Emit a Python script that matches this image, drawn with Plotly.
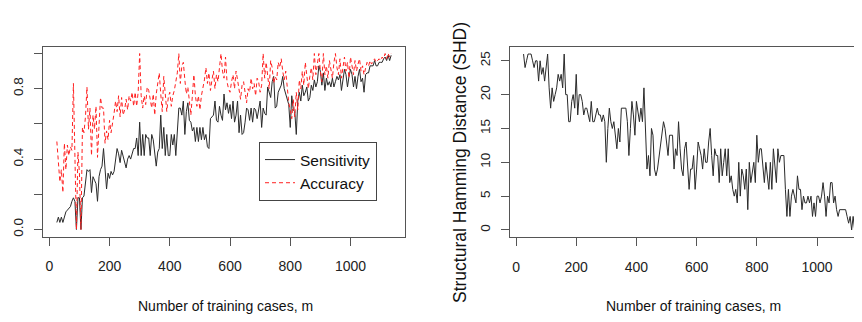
import plotly.graph_objects as go
from plotly.subplots import make_subplots

m = list(range(25, 1140, 5))

sensitivity = [
    0.04,0.07,0.04,0.07,0.04,0.08,0.10,0.11,0.12,0.13,
    0.16,0.18,0.16,0.00,0.18,0.18,0.00,0.18,0.19,0.27,
    0.34,0.33,0.34,0.21,0.30,0.28,0.26,0.16,0.30,0.34,
    0.36,0.46,0.33,0.23,0.32,0.29,0.33,0.31,0.33,0.41,
    0.46,0.43,0.38,0.45,0.41,0.38,0.35,0.40,0.42,0.40,
    0.44,0.46,0.46,0.52,0.42,0.61,0.42,0.54,0.42,0.54,
    0.52,0.52,0.42,0.54,0.51,0.42,0.36,0.44,0.46,0.65,
    0.46,0.58,0.42,0.54,0.42,0.42,0.54,0.48,0.54,0.42,
    0.58,0.69,0.69,0.65,0.73,0.54,0.67,0.72,0.62,0.61,
    0.56,0.58,0.50,0.58,0.50,0.58,0.51,0.58,0.51,0.54,
    0.47,0.46,0.63,0.64,0.65,0.73,0.62,0.61,0.70,0.65,
    0.62,0.77,0.68,0.72,0.66,0.71,0.63,0.73,0.61,0.65,
    0.73,0.55,0.65,0.54,0.55,0.61,0.69,0.68,0.62,0.69,
    0.61,0.69,0.68,0.63,0.68,0.73,0.58,0.69,0.66,0.65,
    0.81,0.77,0.75,0.84,0.87,0.69,0.70,0.78,0.80,0.82,
    0.87,0.80,0.77,0.74,0.71,0.58,0.76,0.68,0.67,0.54,
    0.73,0.78,0.73,0.82,0.76,0.78,0.81,0.73,0.75,0.82,
    0.79,0.85,0.81,0.84,0.93,0.90,0.82,0.89,0.79,0.86,
    0.82,0.84,0.81,0.86,0.81,0.84,0.87,0.85,0.88,0.79,
    0.85,0.91,0.88,0.81,0.87,0.91,0.88,0.81,0.87,0.80,
    0.87,0.91,0.84,0.86,0.78,0.88,0.89,0.89,0.93,0.93,
    0.93,0.96,0.93,0.93,0.95,0.95,0.95,0.97,0.98,0.96,
    0.99,0.96,0.99,
]

accuracy = [
    0.50,0.38,0.27,0.34,0.21,0.49,0.34,0.48,0.42,0.47,
    0.45,0.83,0.30,0.00,0.44,0.32,0.00,0.58,0.55,0.64,
    0.81,0.57,0.69,0.42,0.65,0.57,0.70,0.41,0.59,0.75,
    0.69,0.69,0.49,0.56,0.51,0.62,0.55,0.60,0.66,0.73,
    0.67,0.76,0.64,0.75,0.65,0.68,0.74,0.68,0.76,0.73,
    0.78,0.70,0.78,0.70,0.78,1.00,0.76,0.69,0.76,0.71,
    0.81,0.79,0.75,0.69,0.77,0.65,0.77,0.82,0.89,0.77,
    0.67,0.87,0.74,0.67,0.75,0.78,0.70,0.76,0.79,0.85,
    0.89,1.00,0.83,0.93,0.95,0.85,0.77,0.81,0.73,0.65,
    0.76,0.88,0.76,0.70,0.76,0.68,0.76,0.80,0.85,0.92,
    0.83,0.89,0.79,0.85,0.90,0.80,0.88,0.84,0.92,1.00,
    0.90,0.86,0.98,0.84,0.80,0.78,0.84,0.88,0.80,0.90,
    0.85,0.78,0.74,0.82,0.84,0.78,0.72,0.80,0.78,0.86,
    0.80,0.83,0.76,0.86,0.84,0.78,0.82,1.00,0.86,0.95,
    0.88,0.80,0.96,0.92,0.83,0.87,0.85,0.95,0.92,0.97,
    0.90,0.85,0.90,0.80,0.72,0.68,0.63,0.74,0.64,0.78,
    0.68,0.85,0.80,0.90,0.82,0.95,0.88,0.80,0.87,0.92,
    0.85,1.00,0.88,0.95,1.00,0.90,0.84,1.00,0.88,0.93,
    0.86,0.96,0.90,0.86,0.95,1.00,0.92,0.88,0.97,0.86,
    0.92,0.98,0.90,0.95,0.86,0.98,0.93,0.88,0.96,0.90,
    0.94,0.97,0.90,0.93,0.88,0.92,0.95,0.93,0.96,0.94,
    0.96,0.97,0.95,0.96,0.97,0.96,0.98,0.97,1.00,0.97,
    1.00,0.98,1.00,
]

shd = [
    26,24,25,26,26,26,25,24,25,25,
    22,25,23,24,22,24,26,21,18,21,
    19,20,21,23,22,23,21,26,20,20,
    16,16,19,20,18,23,17,20,20,19,
    17,18,18,17,16,19,16,16,17,18,
    17,17,16,17,16,10,15,18,16,15,
    16,14,12,15,13,18,18,18,18,16,
    11,15,19,17,14,19,17,16,18,16,
    21,15,9,11,8,15,14,9,8,9,
    11,13,15,16,15,13,11,14,14,14,
    9,12,11,16,12,9,8,12,13,10,
    6,9,9,11,6,9,13,12,11,9,
    12,10,10,13,15,11,8,12,11,11,
    7,12,8,10,12,8,12,7,8,6,
    5,6,4,10,5,9,8,6,9,3,
    10,7,9,10,7,14,10,12,12,9,
    7,10,8,6,10,6,12,9,7,12,
    10,11,11,11,6,2,6,2,5,6,
    5,4,8,6,6,3,5,4,4,5,
    4,5,2,4,2,5,5,4,5,7,
    5,2,5,4,7,7,4,5,3,2,
    3,3,3,3,3,2,1,2,0,2,
    0,2,1,
]

x_ticks = [0, 200, 400, 600, 800, 1000]
left_y_ticks = [0.0, 0.2, 0.4, 0.6, 0.8, 1.0]
left_y_labels = ["0.0", "", "0.4", "", "0.8", ""]
right_y_ticks = [0, 5, 10, 15, 20, 25]

W, H = 862, 322
O = 8  # page body margin offset


def px(x):
    return (x - O) / W


def py(y):
    return (H - (y - O)) / H


NARROW = "Liberation Sans Narrow, Arial Narrow, Liberation Sans, Arial, sans-serif"
REG = "Liberation Sans, Arial, Helvetica, sans-serif"
AX = "#555555"

fig = make_subplots(rows=1, cols=2)

fig.add_trace(go.Scatter(x=m, y=sensitivity, mode="lines", name="Sensitivity",
                         line=dict(color="#2a2a2a", width=1)), row=1, col=1)
fig.add_trace(go.Scatter(x=m, y=accuracy, mode="lines", name="Accuracy",
                         line=dict(color="#ff2020", width=1, dash="4px,3px")), row=1, col=1)
fig.add_trace(go.Scatter(x=m, y=shd, mode="lines", showlegend=False,
                         line=dict(color="#2a2a2a", width=1)), row=1, col=2)

common_x = dict(tickvals=x_ticks, ticks="outside", ticklen=8, tickwidth=1, tickcolor=AX,
                showline=True, linecolor=AX, linewidth=1, showgrid=False, zeroline=False,
                tickfont=dict(family=NARROW, size=14, color="#222"), ticklabelstandoff=9)
common_y = dict(ticks="outside", ticklen=8, tickwidth=1, tickcolor=AX, tickangle=-90,
                showline=True, linecolor=AX, linewidth=1, showgrid=False, zeroline=False,
                tickfont=dict(family=REG, size=13.5, color="#222"), ticklabelstandoff=6)

fig.update_layout(
    width=W, height=H,
    margin=dict(l=0, r=0, t=0, b=0),
    paper_bgcolor="white", plot_bgcolor="white",
    xaxis=dict(domain=[px(43), px(405)], range=[-21, 1181], mirror=True, **common_x),
    yaxis=dict(domain=[py(236.5), py(46.5)], range=[-0.04, 1.04], mirror=True,
               tickvals=left_y_ticks, ticktext=left_y_labels, **common_y),
    xaxis2=dict(domain=[px(510), 1.0], range=[-20, 1176], mirror=True, **common_x),
    yaxis2=dict(domain=[py(237), py(47)], range=[-1.04, 27.04], mirror=False,
                tickvals=right_y_ticks, **common_y),
    legend=dict(x=px(259), y=py(142), xanchor="left", yanchor="top",
                bordercolor="#444", borderwidth=1, bgcolor="white",
                font=dict(family=NARROW, size=15.5, color="#111"),
                tracegroupgap=0),
    showlegend=True,
)

fig.add_annotation(text="Number of training cases, m", xref="paper", yref="paper",
                   x=px(225), y=py(306), xanchor="center", yanchor="middle",
                   showarrow=False, font=dict(family=NARROW, size=14, color="#111"))
fig.add_annotation(text="Number of training cases, m", xref="paper", yref="paper",
                   x=px(693), y=py(306), xanchor="center", yanchor="middle",
                   showarrow=False, font=dict(family=NARROW, size=14, color="#111"))
fig.add_annotation(text="Structural Hamming Distance (SHD)", xref="paper", yref="paper",
                   x=px(460), y=py(163), xanchor="center", yanchor="middle",
                   textangle=-90, showarrow=False,
                   font=dict(family=REG, size=17.5, color="#111"))

fig.write_html("out.html")
